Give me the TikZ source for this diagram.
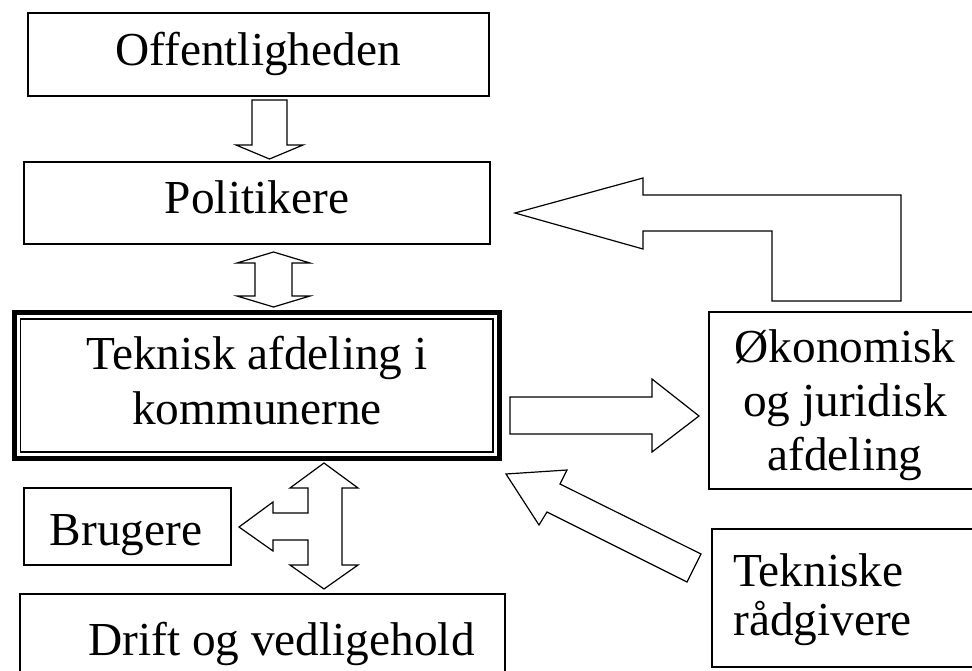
\documentclass[tikz,border=0pt]{standalone}
\usepackage{fontspec}
\setmainfont{Liberation Serif}
\usetikzlibrary{fit}
\tikzset{
  box/.style={draw=black, line width=0.9pt, inner sep=0pt, rectangle},
  lbl/.style={inner sep=0pt, anchor=base, align=center},
  blockarrow/.style={draw=black, fill=white, line width=0.9pt, line join=miter},
}
\newcommand{\bigtxt}[1]{\fontsize{35.5}{#1}\selectfont}
\begin{document}
\begin{tikzpicture}[x=0.75pt,y=-0.75pt]
\useasboundingbox (0,0) rectangle (972,671);
\fill[white] (0,0) rectangle (972,671);

% boxes
\node[box, fit={(28,13) (489,96)}] (off) {};
\node[box, fit={(24,162) (490,244)}] (pol) {};
\node[draw=black, line width=3.75pt, inner sep=0pt, fit={(14.5,312.5) (499.5,458.5)}] (tekOuter) {};
\node[box, fit={(20.5,319) (493,452)}] (tek) {};
\node[box, fit={(709,312) (980,489)}] (oko) {};
\node[box, fit={(712,529) (980,667)}] (rad) {};
\node[box, fit={(24,488) (231,565)}] (bru) {};
\node[box, fit={(20,594) (505,690)}] (drift) {};

% labels (multi-line labels are anchored at the baseline of their last line)
\node[lbl, font=\bigtxt{42pt}] (offT) at (258,65) {Offentligheden};
\node[lbl, font=\bigtxt{42pt}] (polT) at (257,213) {Politikere};
\node[lbl, font=\bigtxt{41.25pt}] (tekT) at (257,424) {Teknisk afdeling i\\kommunerne};
\node[lbl, font=\bigtxt{40.5pt}] (okoT) at (845,470) {Økonomisk\\og juridisk\\afdeling};
\node[lbl, font=\bigtxt{36.75pt}, align=left, anchor=base west] (radT) at (733,635) {Tekniske\\rådgivere};
\node[lbl, font=\bigtxt{42pt}] (bruT) at (126,545) {Brugere};
\node[lbl, font=\bigtxt{42pt}] (driftT) at (281.5,655) {Drift og vedligehold};

% block arrows
\draw[blockarrow] (252,100) -- (287,100) -- (287,145) -- (303,145) -- (269.5,159) -- (236,145) -- (252,145) -- cycle;
\draw[blockarrow] (273.5,252) -- (310,263) -- (292,263) -- (292,296) -- (310,296) -- (273.5,307) -- (237,296) -- (255,296) -- (255,263) -- (237,263) -- cycle;
\draw[blockarrow] (510,397) -- (652,397) -- (652,379) -- (699,416) -- (652,452) -- (652,434) -- (510,434) -- cycle;
\draw[blockarrow] (515,213) -- (643,178) -- (643,195) -- (901,195) -- (901,301) -- (772,301) -- (772,231) -- (643,231) -- (643,249) -- cycle;
\draw[blockarrow] (506,474) -- (567,470) -- (560,484) -- (701,554) -- (687,582) -- (547,512) -- (539,525) -- cycle;
\draw[blockarrow] (324,463) -- (358,488) -- (342,488) -- (342,565) -- (358,565) -- (324,589) -- (290,565) -- (308,565) -- (308,540) -- (273,540) -- (273,551) -- (239,527) -- (273,502) -- (273,513) -- (308,513) -- (308,488) -- (290,488) -- cycle;
\end{tikzpicture}
\end{document}
